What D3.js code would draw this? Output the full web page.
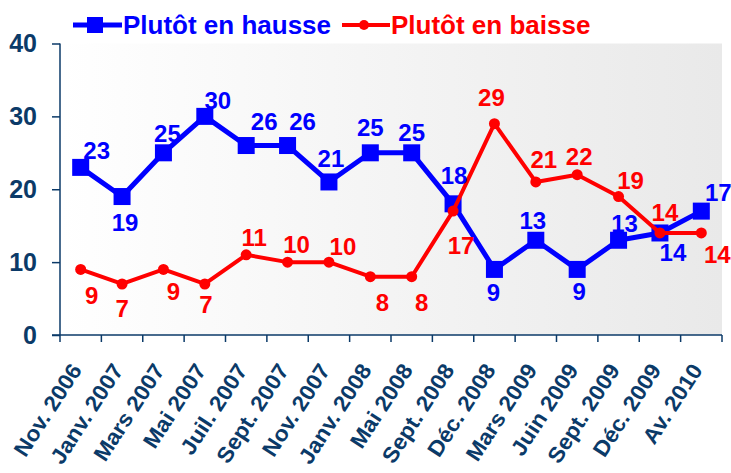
<!DOCTYPE html>
<html>
<head>
<meta charset="utf-8">
<script src="https://cdn.jsdelivr.net/npm/d3@7"></script>
<style>
  body { margin: 0; background: #fff; }
  svg { display: block; font-family: "Liberation Sans", Arial, sans-serif; font-weight: bold; }
</style>
</head>
<body>
<svg id="chart" width="731" height="473"></svg>
<script>
// data
const months = ['Nov. 2006', 'Janv. 2007', 'Mars 2007', 'Mai 2007', 'Juil. 2007', 'Sept. 2007',
  'Nov. 2007', 'Janv. 2008', 'Mai 2008', 'Sept. 2008', 'Déc. 2008', 'Mars 2009', 'Juin 2009',
  'Sept. 2009', 'Déc. 2009', 'Av. 2010'];
const hausse = [23, 19, 25, 30, 26, 26, 21, 25, 25, 18, 9, 13, 9, 13, 14, 17];
const baisse = [9, 7, 9, 7, 11, 10, 10, 8, 8, 17, 29, 21, 22, 19, 14, 14];
const yTicks = [0, 10, 20, 30, 40];

// where each value label sits relative to its point [dx, dy]
const hausseShift = [[16, -17], [3, 26], [4, -19], [13, -16], [18, -24], [15, -24], [2, -23], [0, -25],
  [0, -20], [1, -28], [-1, 23], [-3, -20], [2, 22], [6, -17], [13, 20], [17, -19]];
const baisseShift = [[11, 26], [0, 25], [10, 22], [1, 21], [8, -17], [9, -18], [14, -16], [12, 26],
  [10, 26], [8, 34], [-3, -26], [8, -22], [2, -18], [12, -16], [5, -20], [16, 22]];

const navy = '#0b3a68';
const blue = '#0000ff';
const red = '#ff0000';

const svg = d3.select('#chart');
const plotLeft = 60, plotRight = 722, plotTop = 43.5, plotBottom = 335;

const x = d3.scaleBand().domain(months).range([plotLeft, plotRight]);
const y = d3.scaleLinear().domain([0, 40]).range([plotBottom, plotTop]);
const cx = (d) => x(d) + x.bandwidth() / 2;

// plot background
const grad = svg.append('defs').append('linearGradient').attr('id', 'bg');
grad.append('stop').attr('offset', '0%').attr('stop-color', '#ffffff');
grad.append('stop').attr('offset', '100%').attr('stop-color', '#e9e9e9');
svg.append('rect')
  .attr('x', plotLeft).attr('y', plotTop)
  .attr('width', plotRight - plotLeft).attr('height', plotBottom - plotTop)
  .attr('fill', 'url(#bg)');

// y axis
const yAxis = svg.append('g')
  .attr('transform', `translate(${plotLeft},0)`)
  .call(d3.axisLeft(y).tickValues(yTicks).tickSize(8).tickPadding(15));
yAxis.select('.domain').attr('stroke', navy).attr('stroke-width', 1.5).attr('d', `M0,${plotTop}H0V${plotBottom}`);
yAxis.selectAll('.tick line').attr('stroke', navy).attr('stroke-width', 1.5);
yAxis.selectAll('.tick text')
  .attr('fill', navy).attr('font-size', 25).attr('font-weight', 'bold')
  .attr('font-family', '"Liberation Sans", Arial, sans-serif');

// x axis: ticks at band edges
const xAxis = svg.append('g').attr('transform', `translate(0,${plotBottom})`);
xAxis.append('line')
  .attr('x1', plotLeft - 8).attr('x2', plotRight)
  .attr('stroke', navy).attr('stroke-width', 1.5);
xAxis.selectAll('line.tk')
  .data(months.concat(['end']))
  .join('line')
  .attr('class', 'tk')
  .attr('x1', (d, i) => i < months.length ? x(d) : plotRight)
  .attr('x2', (d, i) => i < months.length ? x(d) : plotRight)
  .attr('y1', 0).attr('y2', 7)
  .attr('stroke', navy).attr('stroke-width', 1.5);
xAxis.selectAll('text')
  .data(months)
  .join('text')
  .attr('transform', (d) => `translate(${cx(d) + 2},${35}) rotate(-57) scale(1.04,1)`)
  .attr('text-anchor', 'end')
  .attr('fill', navy)
  .attr('font-size', 22)
  .text((d) => d);

const line = d3.line().x((d, i) => cx(months[i])).y((d) => y(d));

// blue series
svg.append('path')
  .datum(hausse)
  .attr('d', line)
  .attr('fill', 'none').attr('stroke', blue).attr('stroke-width', 5)
  .attr('stroke-linejoin', 'round');
svg.append('g').selectAll('rect')
  .data(hausse)
  .join('rect')
  .attr('x', (d, i) => cx(months[i]) - 8.5)
  .attr('y', (d) => y(d) - 8.5)
  .attr('width', 17).attr('height', 17)
  .attr('fill', blue);

// red series
svg.append('path')
  .datum(baisse)
  .attr('d', line)
  .attr('fill', 'none').attr('stroke', red).attr('stroke-width', 4)
  .attr('stroke-linejoin', 'round');
svg.append('g').selectAll('circle')
  .data(baisse)
  .join('circle')
  .attr('cx', (d, i) => cx(months[i]))
  .attr('cy', (d) => y(d))
  .attr('r', 5.5)
  .attr('fill', red);

// value labels
function labels(values, shift, color) {
  svg.append('g').selectAll('text')
    .data(values)
    .join('text')
    .attr('x', (d, i) => cx(months[i]) + shift[i][0])
    .attr('y', (d, i) => y(d) + shift[i][1])
    .attr('dy', '0.35em')
    .attr('text-anchor', 'middle')
    .attr('fill', color)
    .attr('font-size', 24)
    .text((d) => d);
}
labels(hausse, hausseShift, blue);
labels(baisse, baisseShift, red);

// legend
const legend = svg.append('g');
legend.append('line').attr('x1', 73).attr('x2', 122).attr('y1', 25).attr('y2', 25)
  .attr('stroke', blue).attr('stroke-width', 5);
legend.append('rect').attr('x', 87).attr('y', 17).attr('width', 16).attr('height', 16).attr('fill', blue);
legend.append('text').attr('x', 123).attr('y', 34).attr('fill', blue).attr('font-size', 26)
  .text('Plutôt en hausse');
legend.append('line').attr('x1', 342).attr('x2', 390).attr('y1', 25).attr('y2', 25)
  .attr('stroke', red).attr('stroke-width', 4);
legend.append('circle').attr('cx', 364).attr('cy', 25).attr('r', 5).attr('fill', red);
legend.append('text').attr('x', 391).attr('y', 34).attr('fill', red).attr('font-size', 26)
  .text('Plutôt en baisse');
</script>
</body>
</html>
